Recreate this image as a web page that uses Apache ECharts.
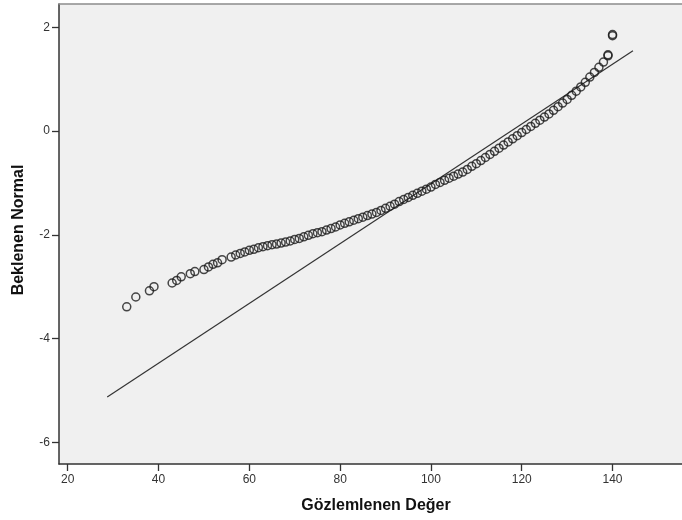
<!DOCTYPE html>
<html>
<head>
<meta charset="utf-8">
<script src="https://cdn.jsdelivr.net/npm/echarts@6/dist/echarts.min.js"></script>
<style>
html,body{margin:0;padding:0;background:#fff;}
#c{width:682px;height:520px;}
</style>
</head>
<body>
<div id="c"></div>
<script>
// Observed values (x) and expected normal values (y)
const observed = [33,35,38,39,43,44,45,47,48,50,51,52,53,54,56,57,58,59,
  60,61,62,63,64,65,66,67,68,69,70,71,72,73,74,75,76,77,78,79,80,
  81,82,83,84,85,86,87,88,89,90,91,92,93,94,95,96,97,98,99,100,
  101,102,103,104,105,106,107,108,109,110,111,112,113,114,115,116,117,118,119,120,
  121,122,123,124,125,126,127,128,129,130,131,132,133,134,135,136,137,138,139,139,140,140];
const expected = [-3.39,-3.20,-3.08,-3.00,-2.93,-2.88,-2.81,-2.75,-2.71,-2.67,-2.62,-2.57,-2.54,-2.48,-2.43,-2.39,-2.36,-2.33,
  -2.30,-2.28,-2.25,-2.23,-2.21,-2.19,-2.18,-2.16,-2.14,-2.12,-2.09,-2.07,-2.04,-2.01,-1.98,-1.96,-1.94,-1.91,-1.88,-1.85,-1.81,
  -1.78,-1.75,-1.72,-1.69,-1.66,-1.63,-1.60,-1.57,-1.53,-1.49,-1.45,-1.41,-1.36,-1.32,-1.28,-1.24,-1.20,-1.16,-1.12,-1.08,
  -1.03,-0.99,-0.95,-0.91,-0.87,-0.83,-0.79,-0.74,-0.68,-0.63,-0.57,-0.51,-0.45,-0.39,-0.33,-0.27,-0.21,-0.15,-0.09,-0.03,
  0.03,0.09,0.15,0.21,0.27,0.33,0.40,0.47,0.54,0.61,0.69,0.77,0.85,0.94,1.04,1.13,1.23,1.33,1.45,1.47,1.86,1.84];
// Reference (normal) line end points
const lineX = [28.7, 144.5];
const lineY = [-5.13, 1.55];
const xTicks = [20,40,60,80,100,120,140];
const yTicks = [-6,-4,-2,0,2];
const xTitle = 'Gözlemlenen Değer';
const yTitle = 'Beklenen Normal';

const pts = observed.map((v,i)=>[v, expected[i]]);
const linePts = lineX.map((v,i)=>[v, lineY[i]]);

const chart = echarts.init(document.getElementById('c'), null, {renderer:'canvas'});
const font = 'Arial, "Liberation Sans", sans-serif';
const X_MIN = 18.08, X_MAX = 155.3;
chart.setOption({
  animation:false,
  backgroundColor:'#ffffff',
  grid:{left:59, top:4, right:0, bottom:56, show:true, backgroundColor:'#f0f0f0', borderWidth:0},
  xAxis:[{type:'value', min:X_MIN, max:X_MAX,
    axisLine:{show:true, onZero:false, lineStyle:{color:'#333', width:1.5}},
    axisTick:{show:true, customValues:xTicks, length:7, lineStyle:{color:'#333', width:1.3}},
    axisLabel:{customValues:xTicks, color:'#333', fontSize:12, fontFamily:font, margin:10},
    splitLine:{show:false}},
    {type:'value', position:'top', min:X_MIN, max:X_MAX,
    axisLine:{show:true, onZero:false, lineStyle:{color:'#8c8c8c', width:1.5}},
    axisTick:{show:false}, axisLabel:{show:false}, splitLine:{show:false}}],
  yAxis:{type:'value', min:-6.42, max:2.45,
    axisLine:{show:true, onZero:false, lineStyle:{color:'#333', width:1.5}},
    axisTick:{show:true, customValues:yTicks, length:7, lineStyle:{color:'#333', width:1.3}},
    axisLabel:{customValues:yTicks, color:'#333', fontSize:12, fontFamily:font, margin:9},
    splitLine:{show:false}},
  graphic:[
    {type:'text', x:376, y:506, style:{text:xTitle, font:'bold 16px '+font, fill:'#111', textAlign:'center', textVerticalAlign:'middle'}},
    {type:'text', x:19, y:230, rotation:Math.PI/2, style:{text:yTitle, font:'bold 16px '+font, fill:'#111', textAlign:'center', textVerticalAlign:'middle'}}
  ],
  series:[
    {type:'line', data:linePts, symbol:'none', lineStyle:{color:'#333', width:1.2}, z:2},
    {type:'scatter', data:pts, symbol:'circle', symbolSize:8,
      itemStyle:{color:'rgba(0,0,0,0)', borderColor:'#1a1a1a', borderWidth:1.5}, z:3}
  ]
});
</script>
</body>
</html>
